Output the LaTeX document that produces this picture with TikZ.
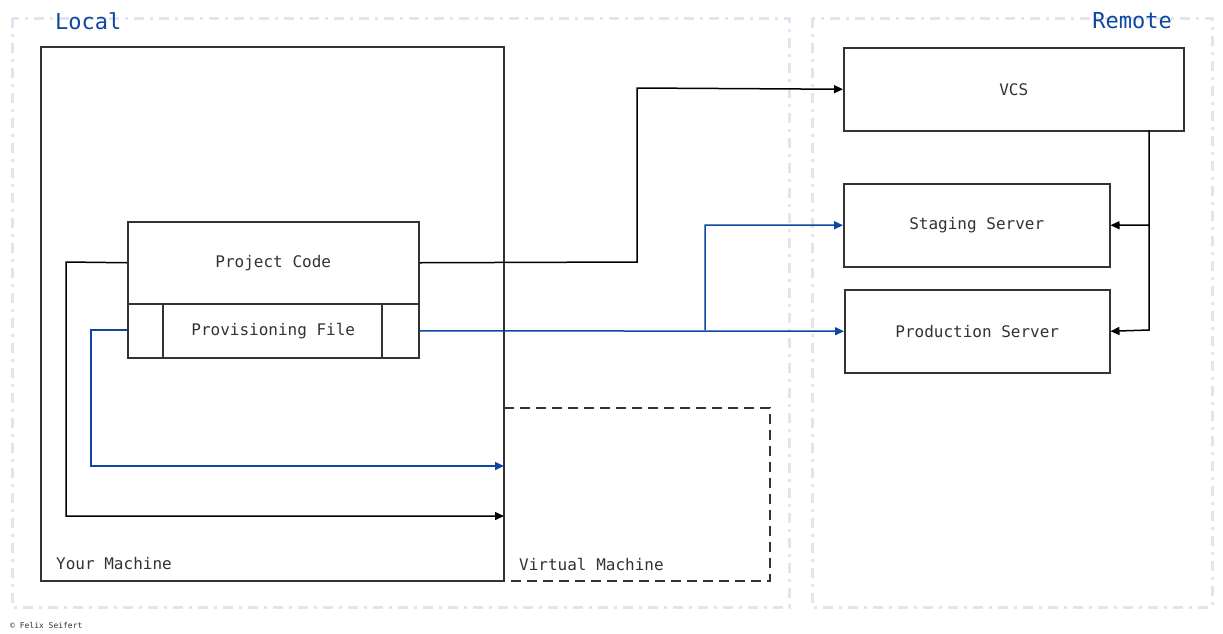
\documentclass[tikz,border=0pt]{standalone}
\usepackage{fontspec}
\setmainfont{DejaVu Sans Mono}
\usetikzlibrary{arrows.meta}
\definecolor{zone}{HTML}{E2E5F0}
\definecolor{bl}{HTML}{0D47A1}
\definecolor{tx}{HTML}{333333}
\tikzset{
 zonebox/.style={draw=zone,line width=3pt,dash pattern=on 10pt off 6pt on 3pt off 6pt},
 boxx/.style={draw=tx,line width=1.5pt,fill=white,text=tx,font=\fontsize{16}{18}\selectfont},
 lbl/.style={text=tx,font=\fontsize{16}{18}\selectfont,anchor=west,inner sep=0},
 ttl/.style={text=bl,font=\fontsize{22}{24}\selectfont,inner sep=0},
 blk/.style={draw=black,line width=1.5pt,-{Triangle[length=9pt,width=8pt]}},
 blu/.style={draw=bl,line width=1.5pt,-{Triangle[length=9pt,width=8pt]}},
}
\begin{document}
\begin{tikzpicture}[x=1pt,y=-1pt]
\useasboundingbox[fill=white] (0,0) rectangle (1223,633);
\draw[zonebox] (12,18) rectangle (789,607);
\draw[zonebox] (812,18) rectangle (1212,607);
\node[ttl,anchor=west] (lt) at (55,21) {Local};
\node[ttl,anchor=east] (rt) at (1172,21) {Remote};
\draw[draw=tx,line width=1.5pt] (41,47) rectangle (504,581);
\draw[draw=tx,line width=1.5pt,dash pattern=on 10pt off 6pt] (504,408) -- (770,408) -- (770,581) -- (504,581);
\node[lbl] (ym) at (56,564) {Your Machine};
\node[lbl] (vm) at (519,564) {Virtual Machine};
\node[boxx,minimum width=291pt,minimum height=82pt,anchor=north west] (pc) at (127,221) {Project Code};
\node[boxx,minimum width=291pt,minimum height=54pt,anchor=north west] (pf) at (127,303) {Provisioning File};
\draw[draw=tx,line width=1.5pt] (163,303) -- (163,357) (382,303) -- (382,357);
\node[boxx,minimum width=340pt,minimum height=83pt,anchor=north west] (vcs) at (843,47) {VCS};
\node[boxx,minimum width=266pt,minimum height=83pt,anchor=north west] (st) at (843,183) {Staging Server};
\node[boxx,minimum width=265pt,minimum height=83pt,anchor=north west] (pr) at (844,289) {Production Server};
\coordinate (vmA) at (504,466);
\coordinate (vmB) at (504,516);
\draw[blk] (pc.east) -- (637,262) -- (637,88) -- (vcs.west);
\draw[blu] (pf.east) -- (pr.west);
\draw[blu] (705,330) -- (705,225) -- (st.west);
\draw[blk] (1149,130) -- (1149,225) -- (st.east);
\draw[blk] (1149,225) -- (1149,330) -- (pr.east);
\draw[blk] (pc.west) -- (66,262) -- (66,516) -- (vmB);
\draw[blu] (127,330) -- (91,330) -- (91,466) -- (vmA);
\node[text=tx,font=\fontsize{8}{9}\selectfont,anchor=west,inner sep=0] (cp) at (10,625) {© Felix Seifert};
\end{tikzpicture}
\end{document}
